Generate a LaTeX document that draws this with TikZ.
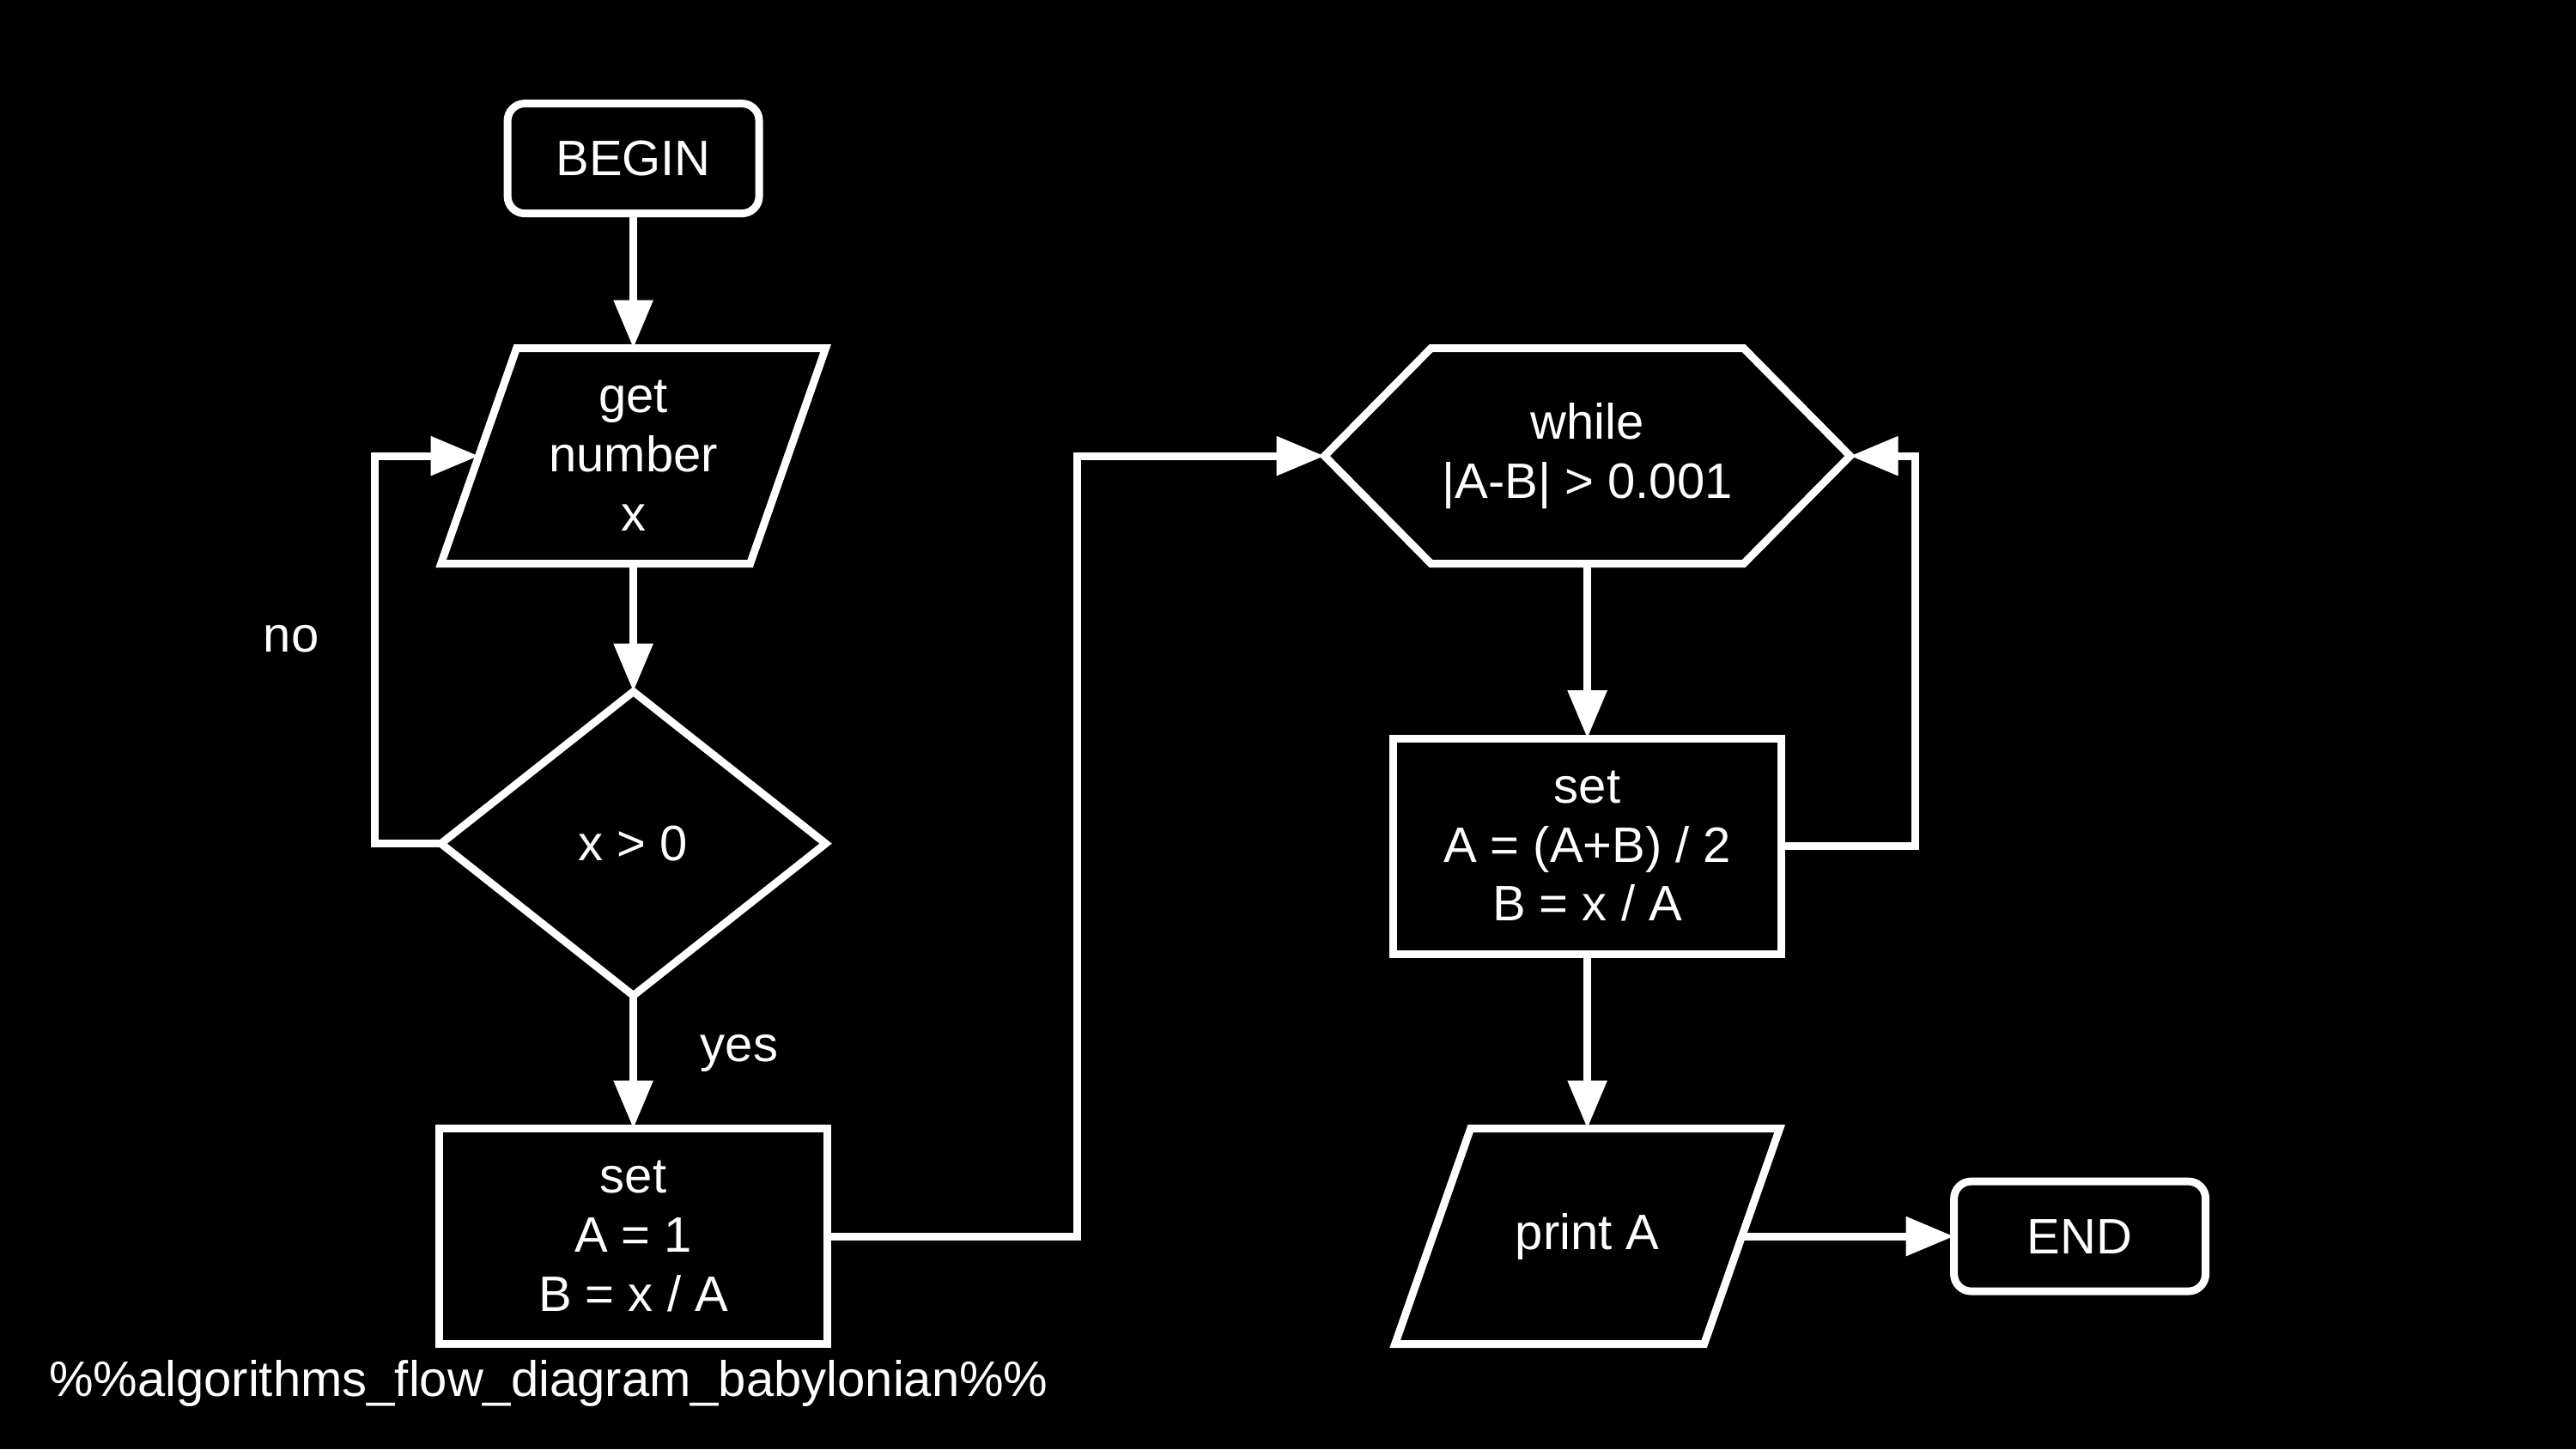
\documentclass[tikz,border=0pt]{standalone}
\usepackage{fontspec}
\setmainfont{Liberation Sans}
\usetikzlibrary{positioning,shapes.geometric,arrows.meta}
\def\dx{2.47cm}
\def\dy{1.53cm}
\def\dz{2.035cm}
\tikzstyle{terminal}=[draw,rectangle,rounded corners=0.2cm,outer sep=0pt,minimum width=2.93cm,minimum height=1.28cm]
\tikzstyle{inout}=[rectangle,outer sep=0pt,minimum width=4.48cm,minimum height=2.51cm,align=center]
\tikzstyle{process}=[draw,rectangle,outer sep=0pt,minimum width=4.52cm,minimum height=2.51cm,align=center]
\tikzstyle{decision}=[draw,diamond,outer sep=0pt,minimum width=4.48cm,minimum height=3.54cm]
\tikzstyle{whilebox}=[rectangle,outer sep=0pt,minimum width=6.12cm,minimum height=2.51cm,align=center]
\newcommand{\newStep}[4]{\node[#3](#1)[#4]{#2};}
\newcommand{\newFlow}[4]{\path[->] (#1) edge node[#4] {#3} (#2);}
\newcommand{\drawSlant}[1]{\draw ([xshift=0.88cm]#1.north west) -- (#1.north east)
  -- ([xshift=-0.88cm]#1.south east) -- (#1.south west) -- cycle;
  \coordinate (#1-l) at ([xshift=0.44cm]#1.west);
  \coordinate (#1-r) at ([xshift=-0.44cm]#1.east);}
\newcommand{\drawHex}[1]{\draw (#1.west) -- ([xshift=1.24cm]#1.north west) -- ([xshift=-1.24cm]#1.north east)
  -- (#1.east) -- ([xshift=-1.24cm]#1.south east) -- ([xshift=1.24cm]#1.south west) -- cycle;}

\begin{document}
\begin{tikzpicture}[node distance=\dy and \dx,
  >={Triangle[length=0.56cm,width=0.44cm]},color=white,
  line width=2.55pt,font=\fontsize{16.5}{19.6}\selectfont
  ]
  \fill[black] (-7.376,1.846) rectangle (22.624,-15.034);
  \useasboundingbox (-7.376,1.846) rectangle (22.624,-15.034);
  % left column
  \newStep{begin}{BEGIN}{terminal}{}
  \newStep{get}{get\\number\\x}{inout}{below=1.57cm of begin}
  \newStep{dec}{x > 0}{decision}{below=1.49cm of get}
  \newStep{init}{set\\A = 1\\B = x / A}{process}{below=1.55cm of dec}
  % right column
  \newStep{hex}{while\\|A-B| > 0.001}{whilebox}{right=8.05cm of get.center}
  \newStep{avg}{set\\A = (A+B) / 2\\B = x / A}{process}{below=\dz of hex}
  \newStep{out}{print A}{inout}{below=\dz of avg}
  \drawSlant{get}
  \drawSlant{out}
  \drawHex{hex}
  \newStep{stop}{END}{terminal}{right=\dx of out-r}
  \newFlow{begin}{get}{}{}
  \newFlow{get}{dec}{}{}
  \newFlow{dec}{init}{yes}{right=0.62cm,yshift=0.1cm}
  \newFlow{hex}{avg}{}{}
  \newFlow{avg}{out}{}{}
  \newFlow{out-r}{stop}{}{}
  \draw[->] (dec.west) -- ++(-0.77,0) |- node[pos=0.25,left=0.49cm,yshift=0.13cm] {no} (get-l);
  \draw[->] (init.east) -- ++(2.91,0) |- (hex.west);
  \draw[->] (avg.east) -- ++(1.56,0) |- (hex.east);
  \node (caption) [anchor=base west,inner sep=0pt] at (-6.85,-14.417) {\%\%algorithms\_flow\_diagram\_babylonian\%\%};
\end{tikzpicture}
\end{document}
